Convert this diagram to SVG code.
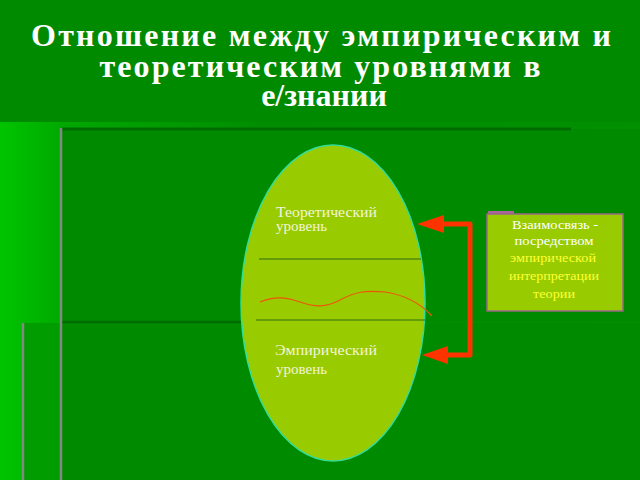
<svg xmlns="http://www.w3.org/2000/svg" width="640" height="480" viewBox="0 0 640 480">
<defs>
<linearGradient id="bg" x1="0" y1="0" x2="1" y2="0">
<stop offset="0" stop-color="#00c400"/>
<stop offset="0.1" stop-color="#00a800"/>
<stop offset="0.4" stop-color="#008e00"/>
<stop offset="1" stop-color="#009000"/>
</linearGradient>
<style>
.title{font-weight:bold;font-size:32px;fill:#ffffff;text-anchor:middle}
.lvl{font-size:15px;fill:#f4f4dc}
.box{font-size:12.5px;text-anchor:middle}
.edge{stroke:#808a80;stroke-width:2.5}
.arrow{fill:none;stroke:#ff3300;stroke-width:5;stroke-linejoin:round}
</style>
</defs>
<rect width="640" height="480" fill="url(#bg)"/>
<rect x="0" y="0" width="640" height="122" fill="#008a00"/>
<g id="panels">
<rect x="61" y="129" width="579" height="193" fill="#008a00"/>
<rect x="23" y="323" width="617" height="157" fill="#009c00"/>
<rect x="61" y="323" width="579" height="157" fill="#008a00"/>
<line x1="61" y1="129" x2="571" y2="129" stroke="#006c00" stroke-width="3"/>
<line x1="61" y1="322" x2="255" y2="322" stroke="#006c00" stroke-width="2.5"/>
<line class="edge" x1="61" y1="128" x2="61" y2="480"/>
<line class="edge" x1="23" y1="323" x2="23" y2="480"/>
</g>
<g id="title" font-family="Liberation Serif, Times New Roman, serif">
<text class="title" x="321" y="46" textLength="580" lengthAdjust="spacing">Отношение между эмпирическим и</text>
<text class="title" x="320" y="77" textLength="441" lengthAdjust="spacing">теоретическим уровнями в</text>
<text class="title" x="324" y="106">е/знании</text>
</g>
<g id="ellipse-node">
<ellipse cx="333" cy="303" rx="92" ry="158" fill="#99cc00" stroke="#33dd99" stroke-width="1.5"/>
<line x1="259" y1="259" x2="421" y2="259" stroke="#2f6d10" stroke-width="1.2"/>
<line x1="256" y1="320" x2="425" y2="320" stroke="#2f6d10" stroke-width="1.2"/>
<path d="M260,302 C275,296 285,297 300,302 C315,307 325,308 340,300 C355,292 365,290 385,292 C405,295 420,303 432,316" fill="none" stroke="#ee5500" stroke-width="1.2"/>
</g>
<g id="theory" font-family="Liberation Serif, Times New Roman, serif">
<text class="lvl" x="276" y="217" textLength="101" lengthAdjust="spacingAndGlyphs">Теоретический</text>
<text class="lvl" x="276" y="231">уровень</text>
</g>
<g id="empiric" font-family="Liberation Serif, Times New Roman, serif">
<text class="lvl" x="275" y="355" textLength="102" lengthAdjust="spacingAndGlyphs">Эмпирический</text>
<text class="lvl" x="276" y="374">уровень</text>
</g>
<g id="connectors">
<path class="arrow" d="M444,224 L470,224 L470,355 L446,355"/>
<polygon points="417,224 444,215 444,233" fill="#ff3300"/>
<polygon points="422,355 448,346 448,364" fill="#ff3300"/>
</g>
<g id="relation-box" font-family="Liberation Serif, Times New Roman, serif">
<rect x="488" y="211" width="26" height="4" fill="#aa6699"/>
<rect x="487" y="214" width="136" height="97" fill="#99cc00" stroke="#996688" stroke-width="1.5"/>
<text class="box" x="555" y="229" fill="#ffffff" textLength="86" lengthAdjust="spacingAndGlyphs">Взаимосвязь -</text>
<text class="box" x="554" y="245" fill="#ffffff" textLength="79" lengthAdjust="spacingAndGlyphs">посредством</text>
<text class="box" x="553" y="262" fill="#ffff33" textLength="86" lengthAdjust="spacingAndGlyphs">эмпирической</text>
<text class="box" x="554" y="280" fill="#ffff33" textLength="90" lengthAdjust="spacingAndGlyphs">интерпретации</text>
<text class="box" x="554" y="298" fill="#ffff33" textLength="42" lengthAdjust="spacingAndGlyphs">теории</text>
</g>
</svg>
